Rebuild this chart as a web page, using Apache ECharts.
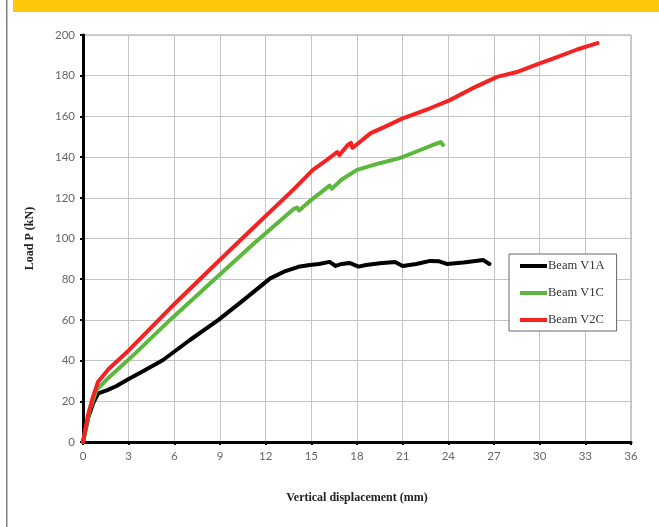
<!DOCTYPE html>
<html>
<head>
<meta charset="utf-8">
<script src="https://cdn.jsdelivr.net/npm/echarts@6/dist/echarts.min.js"></script>
<style>
html,body{margin:0;padding:0;background:#fff;}
#chart{width:659px;height:527px;}
</style>
</head>
<body>
<div id="chart"></div>
<script>
var seriesNames = ['Beam V1A', 'Beam V1C', 'Beam V2C'];
var xTicks = [0, 3, 6, 9, 12, 15, 18, 21, 24, 27, 30, 33, 36];
var yTicks = [0, 20, 40, 60, 80, 100, 120, 140, 160, 180, 200];

var v1aX = [0, 0.33, 0.66, 1.0, 1.6, 2.2, 3.0, 4.0, 5.26, 7.0, 8.9, 10.5, 12.3, 13.3, 14.15, 14.9, 15.5, 16.2, 16.6, 17.0, 17.5, 18.1, 18.6, 19.5, 20.5, 21.0, 21.9, 22.8, 23.4, 23.9, 25.0, 26.3, 26.7];
var v1aY = [0, 11.6, 19, 23.9, 25.5, 27.5, 31, 35, 40.3, 50, 60, 69.5, 80.4, 84, 86.1, 87, 87.5, 88.5, 86.5, 87.5, 88, 86.2, 87, 87.8, 88.5, 86.5, 87.5, 89, 88.8, 87.5, 88.2, 89.4, 87.5];

var v1cX = [0, 0.44, 0.88, 1.64, 3.0, 5.72, 8.5, 11.3, 13.8, 14.05, 14.2, 15.0, 16.2, 16.35, 17.0, 18.0, 19.5, 20.8, 22.0, 23.0, 23.5, 23.65];
var v1cY = [0, 15.7, 25.5, 31.3, 40.5, 60, 79, 98, 114.3, 115.2, 113.8, 119, 126, 124.5, 129, 133.7, 137, 139.5, 143, 146, 147.4, 146];

var v2cX = [0, 0.33, 0.66, 0.99, 1.7, 3.0, 5.72, 8.0, 10.45, 13.82, 15.1, 16.0, 16.7, 16.85, 17.4, 17.6, 17.7, 18.9, 20.0, 21.0, 22.8, 24.1, 25.5, 27.2, 28.5, 30.0, 31.1, 32.5, 33.8];
var v2cY = [0, 13.3, 22.3, 29.6, 36, 45, 65.7, 82.3, 100, 124, 133.7, 138.5, 142.5, 141, 146, 147, 144.5, 151.8, 155.5, 159, 164, 168, 173.5, 179.4, 181.8, 186, 189, 193, 196];

function zip(xs, ys) { return xs.map(function (x, i) { return [x, ys[i]]; }); }

var chart = echarts.init(document.getElementById('chart'), null, {renderer: 'canvas'});
var sansFont = 'Lato, "Liberation Sans", sans-serif';
var serifFont = '"Liberation Serif", "DejaVu Serif", serif';

chart.setOption({
  animation: false,
  backgroundColor: '#ffffff',
  graphic: [
    {type: 'rect', left: 13, top: 0, shape: {width: 646, height: 12}, style: {fill: '#ffc90a'}, silent: true},
    {type: 'rect', left: 6, top: 0, shape: {width: 1.5, height: 527}, style: {fill: '#808080'}, silent: true}
  ],
  grid: {
    left: 83, right: 28, top: 35, bottom: 85,
    show: true, borderColor: '#9a9a9a', borderWidth: 1, backgroundColor: 'transparent'
  },
  legend: {
    orient: 'vertical',
    left: 509, top: 254,
    padding: [5, 12, 4, 11],
    itemGap: 13,
    itemWidth: 27, itemHeight: 4,
    icon: 'rect',
    backgroundColor: '#ffffff',
    borderColor: '#666666', borderWidth: 1,
    textStyle: {fontFamily: serifFont, fontSize: 12.5, color: '#333333', padding: [0, 0, 0, -4], lineHeight: 14},
    data: seriesNames
  },
  xAxis: {
    type: 'value', min: 0, max: 36, interval: 3,
    name: 'Vertical displacement (mm)', nameLocation: 'middle', nameGap: 50,
    nameTextStyle: {fontFamily: serifFont, fontSize: 12, fontWeight: 'bold', color: '#222'},
    axisLine: {show: true, onZero: false, lineStyle: {color: '#000', width: 3}},
    axisTick: {show: true, length: 3, lineStyle: {color: '#000', width: 2}},
    axisLabel: {fontFamily: sansFont, fontSize: 11.5, color: '#666', margin: 8,
      formatter: function (v) { return xTicks.indexOf(v) >= 0 ? String(v) : ''; }},
    splitLine: {show: true, lineStyle: {color: '#c4c4c4', width: 1}}
  },
  yAxis: {
    type: 'value', min: 0, max: 200, interval: 20,
    name: 'Load P (kN)', nameLocation: 'middle', nameGap: 47, nameRotate: 90,
    nameTextStyle: {fontFamily: serifFont, fontSize: 12, fontWeight: 'bold', color: '#222'},
    axisLine: {show: true, onZero: false, lineStyle: {color: '#000', width: 3}},
    axisTick: {show: true, length: 3, lineStyle: {color: '#000', width: 2}},
    axisLabel: {fontFamily: sansFont, fontSize: 11.5, color: '#666', margin: 8,
      formatter: function (v) { return yTicks.indexOf(v) >= 0 ? String(v) : ''; }},
    splitLine: {show: true, lineStyle: {color: '#c4c4c4', width: 1}}
  },
  series: [
    {name: seriesNames[0], type: 'line', data: zip(v1aX, v1aY), showSymbol: false, symbol: 'none',
     lineStyle: {color: '#000000', width: 4, join: 'round', cap: 'round'}, itemStyle: {color: '#000000'}},
    {name: seriesNames[1], type: 'line', data: zip(v1cX, v1cY), showSymbol: false, symbol: 'none',
     lineStyle: {color: '#5cb83c', width: 4, join: 'round', cap: 'round'}, itemStyle: {color: '#5cb83c'}},
    {name: seriesNames[2], type: 'line', data: zip(v2cX, v2cY), showSymbol: false, symbol: 'none',
     lineStyle: {color: '#f52222', width: 4, join: 'round', cap: 'round'}, itemStyle: {color: '#f52222'}}
  ]
});
</script>
</body>
</html>
